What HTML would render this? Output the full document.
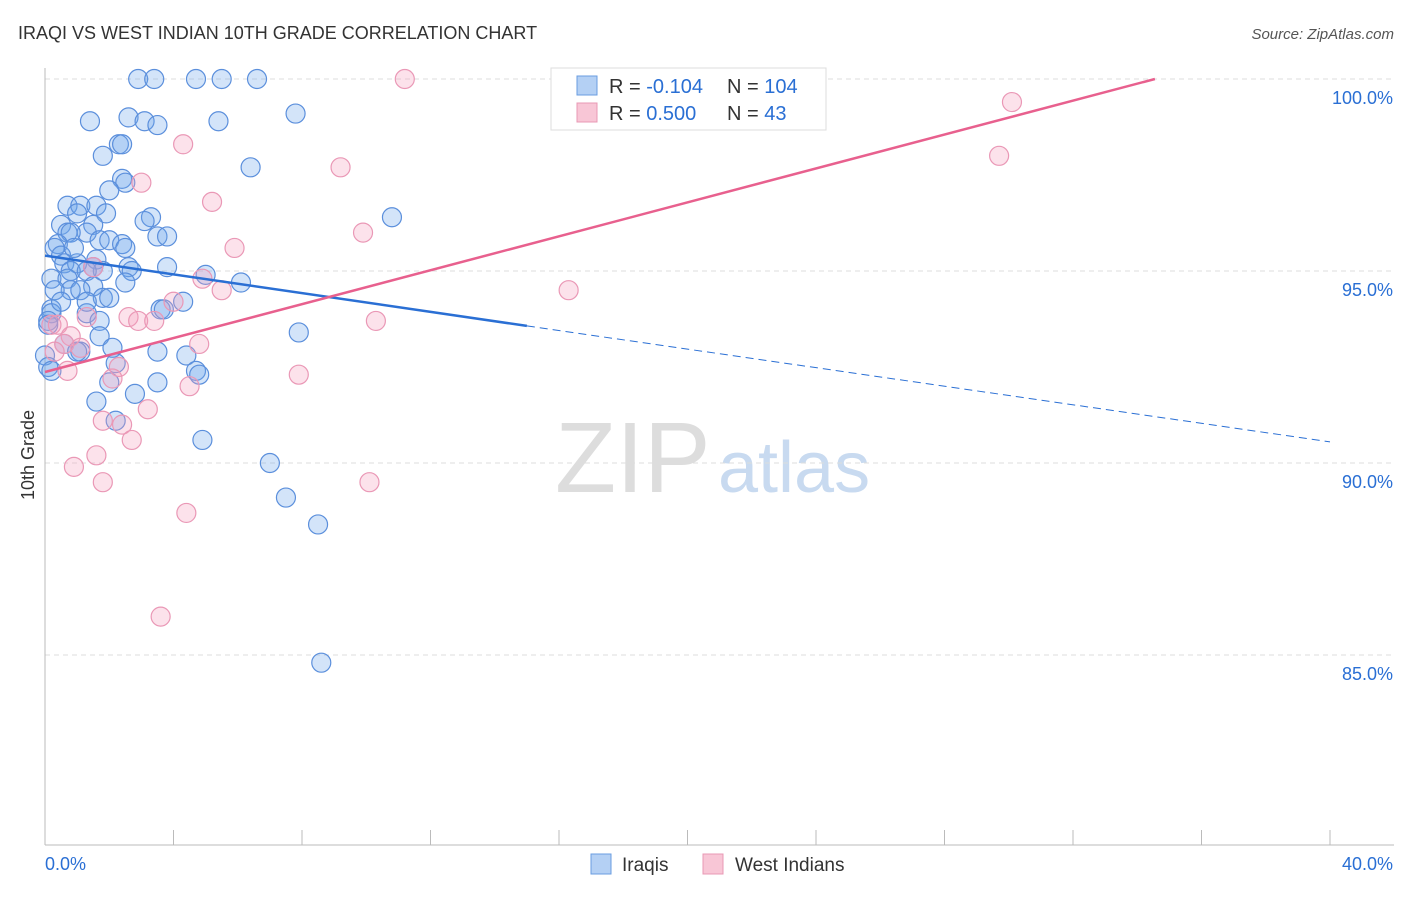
<!DOCTYPE html>
<html><head><meta charset="utf-8"><style>
body{margin:0;background:#fff;font-family:"Liberation Sans",sans-serif;}
svg text{font-family:"Liberation Sans",sans-serif;}
</style></head><body>
<svg id="chart" width="1406" height="892">
<text x="18" y="39" font-size="18" fill="#333">IRAQI VS WEST INDIAN 10TH GRADE CORRELATION CHART</text>
<text x="1394" y="39" font-size="15" fill="#555" font-style="italic" text-anchor="end">Source: ZipAtlas.com</text>
<text x="555" y="492" font-size="100" fill="#ddd" font-family="Liberation Serif">ZIP</text>
<text x="718" y="492" font-size="72" fill="#c8daf0">atlas</text>
<text x="34" y="455" font-size="18" fill="#333" transform="rotate(-90 34 455)" text-anchor="middle">10th Grade</text>
<g id="grid"></g><g id="axes"></g><g id="pts"></g><g id="lines"></g>
<g>
<rect x="551" y="68" width="275" height="62" fill="#fff" stroke="#ddd"/>
<rect x="577" y="76" width="20" height="19" fill="#b4d0f4" stroke="#6a9de0"/>
<rect x="577" y="103" width="20" height="19" fill="#f8c6d6" stroke="#e898b4"/>
<text x="609" y="93" font-size="20" fill="#333">R = <tspan fill="#2a6fd4">-0.104</tspan></text>
<text x="727" y="93" font-size="20" fill="#333">N = <tspan fill="#2a6fd4">104</tspan></text>
<text x="609" y="120" font-size="20" fill="#333">R = <tspan fill="#2a6fd4"> 0.500</tspan></text>
<text x="727" y="120" font-size="20" fill="#333">N = <tspan fill="#2a6fd4">  43</tspan></text>
</g>
<g>
<rect x="591" y="854" width="20" height="20" fill="#b4d0f4" stroke="#6a9de0"/>
<text x="622" y="871" font-size="19" fill="#333">Iraqis</text>
<rect x="703" y="854" width="20" height="20" fill="#f8c6d6" stroke="#e898b4"/>
<text x="735" y="871" font-size="19" fill="#333">West Indians</text>
</g>
</svg>
<script>
const yTicks=[100,95,90,85];
const yTickLabels=["100.0%","95.0%","90.0%","85.0%"];
const xTickCount=10;
const blueX=[2.9,3.4,4.7,5.5,6.6,7.8,1.4,2.6,3.1,3.5,5.4,2.3,2.4,1.8,6.4,2.4,2.5,2.0,0.7,1.1,1.6,1.9,1.0,10.8,3.3,0.5,1.5,3.1,1.3,0.7,0.8,3.5,3.8,1.7,2.0,0.4,2.4,2.5,0.3,0.5,0.6,1.6,1.0,2.6,3.8,1.8,2.7,0.8,1.3,1.5,5.0,0.2,0.7,2.5,6.1,1.5,0.8,1.1,0.3,1.8,4.3,3.6,3.7,0.2,0.2,1.3,1.7,0.1,0.1,7.9,1.7,0.6,1.1,1.0,2.1,3.5,4.4,0.0,2.2,0.1,0.2,4.7,4.8,3.5,2.0,2.8,1.6,2.2,4.9,7.0,7.5,8.5,8.6,0.9,0.5,1.3,2.0];
const blueY=[100,100,100,100,100,99.1,98.9,99.0,98.9,98.8,98.9,98.3,98.3,98.0,97.7,97.4,97.3,97.1,96.7,96.7,96.7,96.5,96.5,96.4,96.4,96.2,96.2,96.3,96.0,96.0,96.0,95.9,95.9,95.8,95.8,95.7,95.7,95.6,95.6,95.4,95.2,95.3,95.2,95.1,95.1,95.0,95.0,95.0,95.0,95.1,94.9,94.8,94.8,94.7,94.7,94.6,94.5,94.5,94.5,94.3,94.2,94.0,94.0,94.0,93.9,93.9,93.7,93.7,93.6,93.4,93.3,93.1,92.9,92.9,93.0,92.9,92.8,92.8,92.6,92.5,92.4,92.4,92.3,92.1,92.1,91.8,91.6,91.1,90.6,90.0,89.1,88.4,84.8,95.6,94.2,94.2,94.3];
const pinkX=[11.2,30.1,29.7,4.3,9.2,3.0,5.2,9.9,5.9,1.5,4.9,5.5,16.3,4.0,1.3,2.6,2.9,3.4,10.3,0.2,0.4,0.8,0.6,4.8,0.3,1.1,2.3,0.7,7.9,2.1,4.5,3.2,1.8,2.4,2.7,1.6,0.9,1.8,10.1,4.4,3.6];
const pinkY=[100,99.4,98.0,98.3,97.7,97.3,96.8,96.0,95.6,95.1,94.8,94.5,94.5,94.2,93.8,93.8,93.7,93.7,93.7,93.6,93.6,93.3,93.1,93.1,92.9,93.0,92.5,92.4,92.3,92.2,92.0,91.4,91.1,91.0,90.6,90.2,89.9,89.5,89.5,88.7,86.0];
const blueLine=[[0,95.4],[15,93.57],[40,90.55]];
const pinkLine=[[0,92.37],[34.55,100]];
const NS="http://www.w3.org/2000/svg";
const sx=v=>45+v/40*1285, sy=v=>79+(100-v)*38.4;
function mk(t,a,p){const e=document.createElementNS(NS,t);for(const k in a)e.setAttribute(k,a[k]);p.appendChild(e);return e;}
const grid=document.getElementById('grid'),axes=document.getElementById('axes');
yTicks.forEach((t,i)=>{
 const l=mk('line',{x1:45,x2:1394,y1:sy(t),y2:sy(t),stroke:'#ddd','stroke-dasharray':'5,4'},grid);
 
 
 const tx=mk('text',{x:1393,y:sy(t)+25,'font-size':18,fill:'#2a6fd4','text-anchor':'end'},axes);
 tx.textContent=yTickLabels[i];
 
 
});
let a=mk('line',{x1:45,x2:45,y1:68,y2:845,stroke:'#bbb'},axes);

a=mk('line',{x1:45,x2:1394,y1:845,y2:845,stroke:'#bbb'},axes);

for(let i=0;i<=xTickCount;i++){const x=sx(i*40/xTickCount);
 const t=mk('line',{x1:x,x2:x,y1:830,y2:845,stroke:'#bbb'},axes);
 
 }
let xl=mk('text',{x:45,y:870,'font-size':18,fill:'#2a6fd4'},axes);xl.textContent='0.0%';

xl=mk('text',{x:1393,y:870,'font-size':18,fill:'#2a6fd4','text-anchor':'end'},axes);xl.textContent='40.0%';

const pts=document.getElementById('pts');
blueX.forEach((x,i)=>{const c=mk('circle',{cx:sx(x),cy:sy(blueY[i]),r:9.5,fill:'rgba(110,165,235,0.3)',stroke:'#5b8fdc','stroke-width':1.2},pts);
 
 });
pinkX.forEach((x,i)=>{const c=mk('circle',{cx:sx(x),cy:sy(pinkY[i]),r:9.5,fill:'rgba(245,160,190,0.3)',stroke:'#ea98b6','stroke-width':1.2},pts);
 
 });
const lines=document.getElementById('lines');
let ln=mk('line',{x1:sx(blueLine[0][0]),y1:sy(blueLine[0][1]),x2:sx(blueLine[1][0]),y2:sy(blueLine[1][1]),stroke:'#2a6fd4','stroke-width':2.5},lines);

ln=mk('line',{x1:sx(blueLine[1][0]),y1:sy(blueLine[1][1]),x2:sx(blueLine[2][0]),y2:sy(blueLine[2][1]),stroke:'#2a6fd4','stroke-width':1,'stroke-dasharray':'8,5'},lines);

ln=mk('line',{x1:sx(pinkLine[0][0]),y1:sy(pinkLine[0][1]),x2:sx(pinkLine[1][0]),y2:sy(pinkLine[1][1]),stroke:'#e8608e','stroke-width':2.5},lines);

</script>
</body></html>
